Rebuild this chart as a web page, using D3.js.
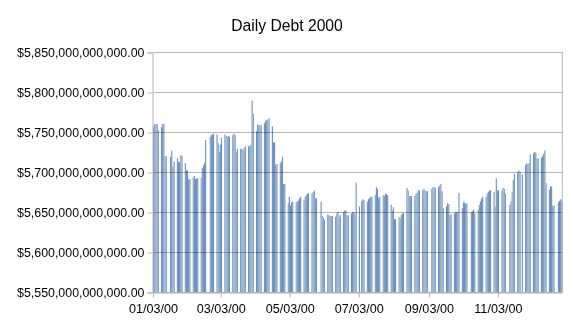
<!DOCTYPE html>
<html lang="en">
<head>
<meta charset="utf-8">
<title>Daily Debt 2000</title>
<script src="https://cdn.jsdelivr.net/npm/d3@7"></script>
<style>
  body { margin: 0; background: #fff; }
  text { font-family: "Liberation Sans", Arial, sans-serif; fill: #000; }
</style>
</head>
<body>
<script>
// week (monday) -> debt in billions, mon..fri, null = holiday
var weekStarts = ["2000-01-03","2000-01-10","2000-01-17","2000-01-24","2000-01-31","2000-02-07","2000-02-14","2000-02-21",
  "2000-02-28","2000-03-06","2000-03-13","2000-03-20","2000-03-27","2000-04-03","2000-04-10","2000-04-17","2000-04-24",
  "2000-05-01","2000-05-08","2000-05-15","2000-05-22","2000-05-29","2000-06-05","2000-06-12","2000-06-19","2000-06-26",
  "2000-07-03","2000-07-10","2000-07-17","2000-07-24","2000-07-31","2000-08-07","2000-08-14","2000-08-21","2000-08-28",
  "2000-09-04","2000-09-11","2000-09-18","2000-09-25","2000-10-02","2000-10-09","2000-10-16","2000-10-23","2000-10-30",
  "2000-11-06","2000-11-13","2000-11-20","2000-11-27","2000-12-04","2000-12-11","2000-12-18","2000-12-25"];

var weekValues = [
  [5757,5760,5760,5760,5752],
  [5756,5760,5760,5719,5720],
  [null,5719,5727,5707,5713],
  [5717,5713,5712,5721,5720],
  [5711,5702,5702,5691,5691],
  [5693,5695,5691,5692,5692],
  [5693,5705,5708,5711,5740],
  [null,5744,5746,5747,5748],
  [5747,5736,5725,5734,5743],
  [5747,5745,5744,5745,5744],
  [5746,5748,5746,5725,5729],
  [5729,5729,5727,5730,5732],
  [5732,5733,5734,5789,5773],
  [5751,5759,5759,5758,5759],
  [5761,5764,5765,5766,5767],
  [5757,5737,5737,5709,5710],
  [5711,5713,5719,5685,5685],
  [5661,5669,5658,5662,5663],
  [5662,5663,5664,5667,5669],
  [5665,5669,5671,5673,5673],
  [5673,5675,5677,5667,5667],
  [null,5663,5645,5643,5640],
  [5647,5646,5645,5645,5645],
  [5644,5648,5650,5644,5646],
  [5650,5652,5652,5646,5646],
  [5648,5650,5650,5648,5687],
  [5657,null,5664,5666,5665],
  [5663,5666,5667,5669,5669],
  [5671,5681,5679,5668,5669],
  [5671,5670,5673,5672,5671],
  [5659,5652,5656,5641,5641],
  [5644,5642,5646,5648,5649],
  [5680,5677,5670,5670,5670],
  [5670,5673,5674,5677,5677],
  [5677,5679,5677,5676,5676],
  [null,5679,5681,5681,5680],
  [5681,5683,5685,5676,5655],
  [5657,5661,5660,5646,5647],
  [5648,5650,5650,5650,5674],
  [5655,5662,5662,5660,5661],
  [null,5650,5651,5653,5648],
  [5653,5659,5663,5667,5669],
  [5669,5673,5675,5677,5677],
  [5675,5657,5692,5677,5677],
  [5677,5680,5679,5673,null],
  [5659,5663,5675,5690,5698],
  [5700,5702,5700,null,5697],
  [5709,5711,5710,5711,5722],
  [5723,5725,5724,5717,5717],
  [5718,5720,5723,5727,5686],
  [5678,5682,5682,5658,5658],
  [null,5662,5664,5666,5664]
];

var xTickDates = ["2000-01-03","2000-03-03","2000-05-03","2000-07-03","2000-09-03","2000-11-03"];
var yTicks = [5.55e12, 5.6e12, 5.65e12, 5.7e12, 5.75e12, 5.8e12, 5.85e12];

var parse = d3.utcParse("%Y-%m-%d");
var day = 864e5;

var rows = [];
weekStarts.forEach(function(ws, i) {
  var t0 = parse(ws).getTime();
  weekValues[i].forEach(function(v, k) {
    if (v != null) rows.push({date: new Date(t0 + k*day), value: v*1e9});
  });
});

var width = 573, height = 322;
var plotLeft = 153, plotRight = 562.3, plotTop = 52, plotBottom = 292;

var svg = d3.select("body").append("svg")
  .attr("width", width)
  .attr("height", height);

var x = d3.scaleUtc()
  .domain([parse("2000-01-03"), parse("2000-12-30")])
  .range([plotLeft, plotRight]);

var y = d3.scaleLinear()
  .domain([5.55e12, 5.85e12])
  .range([plotBottom, plotTop]);

var grad = svg.append("defs").append("linearGradient")
  .attr("id", "barGrad")
  .attr("x1", 0).attr("x2", 1).attr("y1", 0).attr("y2", 0);
grad.append("stop").attr("offset", "0%").attr("stop-color", "#a4bcd9");
grad.append("stop").attr("offset", "100%").attr("stop-color", "#3a68a0");

// title
svg.append("text")
  .attr("x", 287)
  .attr("y", 31)
  .attr("text-anchor", "middle")
  .style("font-size", "15.7px")
  .text("Daily Debt 2000");

// bars
svg.append("g").selectAll("rect")
  .data(rows)
  .enter().append("rect")
  .attr("x", function(d) { return x(d.date); })
  .attr("y", function(d) { return y(d.value); })
  .attr("width", function(d) { return x(new Date(d.date.getTime() + day)) - x(d.date); })
  .attr("height", function(d) { return plotBottom - y(d.value); })
  .attr("fill", "url(#barGrad)");

// grid on top, multiplied so it darkens through the bars
svg.append("g")
  .style("mix-blend-mode", "multiply")
  .selectAll("line")
  .data(yTicks)
  .enter().append("line")
  .attr("x1", plotLeft)
  .attr("x2", plotRight)
  .attr("y1", function(d) { return Math.round(y(d)) + 0.5; })
  .attr("y2", function(d) { return Math.round(y(d)) + 0.5; })
  .attr("stroke", "#b3b3b3");

// right border
svg.append("line")
  .attr("x1", plotRight).attr("x2", plotRight)
  .attr("y1", plotTop).attr("y2", plotBottom)
  .attr("stroke", "#b3b3b3");

var fmt = d3.format(",.2f");
var yAxis = d3.axisLeft(y)
  .tickValues(yTicks)
  .tickSize(5)
  .tickPadding(3)
  .tickFormat(function(d) { return "$" + fmt(d); });

var gy = svg.append("g")
  .attr("transform", "translate(" + (plotLeft - 0.5) + ",0.5)")
  .call(yAxis);
gy.select(".domain").attr("stroke", "#b3b3b3");
gy.selectAll(".tick line").attr("stroke", "#b3b3b3");
gy.selectAll(".tick text")
  .style("font-size", "12.4px")
  .style("font-family", "'Liberation Sans', Arial, sans-serif")
  .attr("fill", "#000");

var xAxis = d3.axisBottom(x)
  .tickValues(xTickDates.map(parse))
  .tickSizeInner(5)
  .tickSizeOuter(0)
  .tickPadding(7)
  .tickFormat(d3.utcFormat("%m/%d/%y"));

var gx = svg.append("g")
  .attr("transform", "translate(0," + (plotBottom + 0.5) + ")")
  .call(xAxis);
gx.select(".domain").attr("stroke", "#b3b3b3");
gx.selectAll(".tick line").attr("stroke", "#b3b3b3");
gx.selectAll(".tick text")
  .style("font-size", "12.6px")
  .style("font-family", "'Liberation Sans', Arial, sans-serif")
  .attr("fill", "#000");
</script>
</body>
</html>
